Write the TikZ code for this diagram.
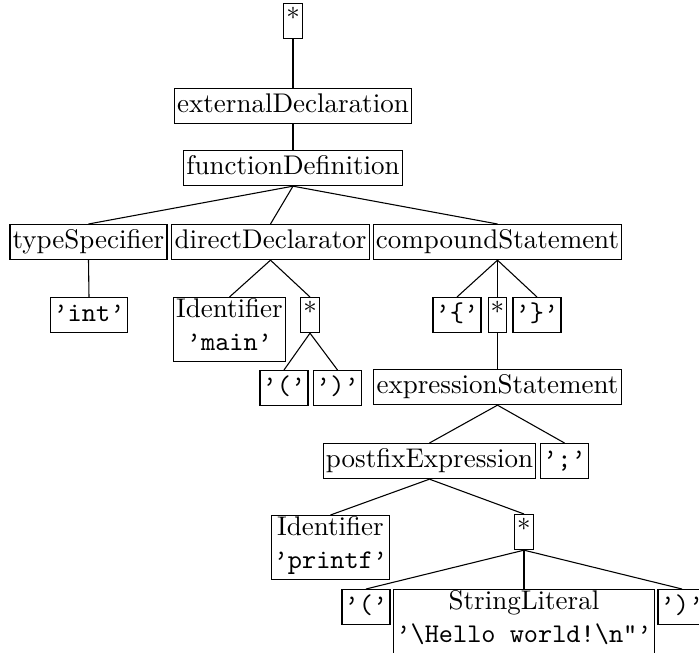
\documentclass[tikz,border=0pt]{standalone}
\usepackage{tikz}
\usetikzlibrary{positioning}

\begin{document}
\begin{tikzpicture}[x = 0.37037pt, y = -0.37037pt,
  tok/.style = {draw, shape = rectangle, anchor = north, inner xsep = 1pt, inner ysep = 0.5pt, align = center, execute at begin node = \strut}]
\useasboundingbox (0,0) rectangle (699,653);
\node[tok] (1) at (293,3) {*};
\node[tok] (2) at (293,88) {externalDeclaration};
\node[tok] (3) at (293,150) {functionDefinition};
\node[tok] (4) at (88.5,224) {typeSpecifier};
\node[tok] (5) at (270.5,224) {directDeclarator};
\node[tok] (6) at (497.5,224) {compoundStatement};
\node[tok] (7) at (89,297) {\texttt{’int’}};
\node[tok] (8) at (229.5,297) {Identifier\\\strut\texttt{’main’}};
\node[tok] (9) at (310,297) {*};
\node[tok] (10) at (284,370) {\texttt{’(’}};
\node[tok] (11) at (337.5,370) {\texttt{’)’}};
\node[tok] (12) at (457,297) {\texttt{’\{’}};
\node[tok] (13) at (497.5,297) {*};
\node[tok] (14) at (537,297) {\texttt{’\}’}};
\node[tok] (15) at (497.5,369) {expressionStatement};
\node[tok] (16) at (429.5,443) {postfixExpression};
\node[tok] (17) at (564.5,443) {\texttt{’;’}};
\node[tok] (18) at (330.5,515) {Identifier\\\strut\texttt{’printf’}};
\node[tok] (19) at (524,514) {*};
\node[tok] (20) at (366,589) {\texttt{’(’}};
\node[tok] (21) at (524,589) {StringLiteral\\\strut\texttt{’\textbackslash Hello world!\textbackslash n"’}};
\node[tok] (22) at (682,589) {\texttt{’)’}};
\foreach \a/\b in {1/2, 2/3, 3/4, 3/5, 3/6, 4/7, 5/8, 5/9, 9/10, 9/11, 6/12, 6/13, 6/14, 13/15, 15/16, 15/17, 16/18, 16/19, 19/20, 19/21, 19/22}
  \draw (\a.south) -- (\b.north);
\end{tikzpicture}
\end{document}
